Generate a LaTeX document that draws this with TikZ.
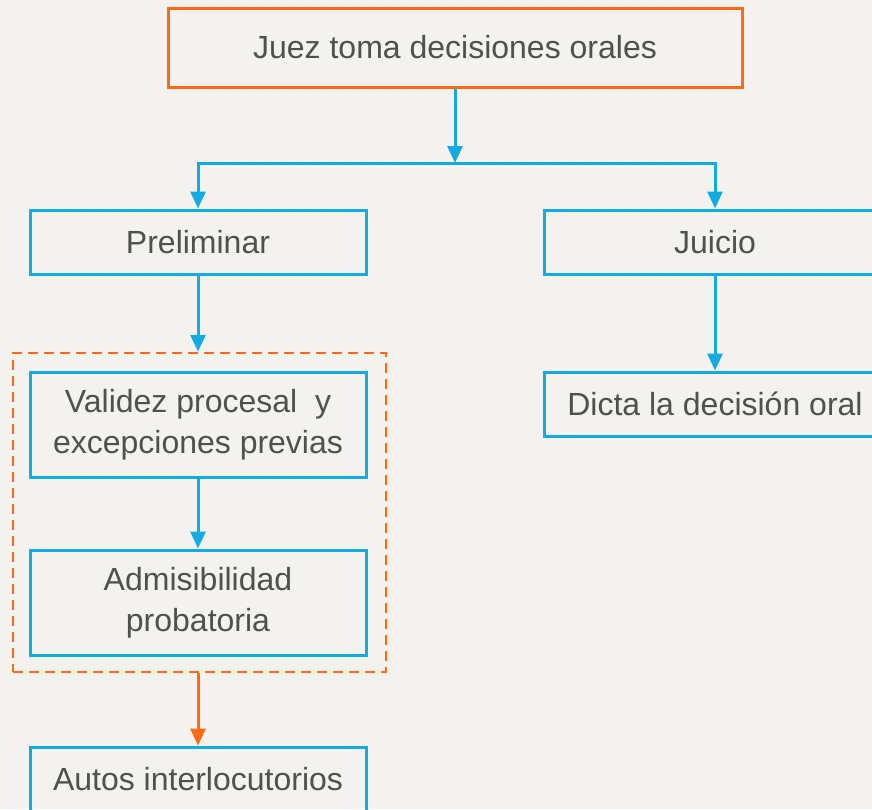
\documentclass[tikz,border=0pt]{standalone}
\usepackage{fontspec}
\setmainfont{Liberation Sans}
\usetikzlibrary{arrows.meta}

\definecolor{naranja}{HTML}{FF6A13}
\definecolor{celeste}{HTML}{12ACE3}
\definecolor{texto}{HTML}{505050}
\definecolor{papel}{HTML}{F4F2EF}

\tikzset{
    caja/.style={draw=celeste, line width=3pt, rectangle, text=texto, align=center,
        font=\fontsize{32}{41}\selectfont, inner sep=0pt},
    flecha/.style={draw=celeste, line width=3pt, -{Triangle[length=17pt,width=15pt]}},
}

\begin{document}
\begin{tikzpicture}[x=1pt,y=-1pt]
    \fill[papel] (0,0) rectangle (872,809);
    \useasboundingbox (0,0) rectangle (872,809);

    \node[caja, draw=naranja, minimum width=574pt, minimum height=79pt] (juez) at (455,47.5) {Juez toma decisiones orales};
    \node[caja, minimum width=336pt, minimum height=64pt] (prelim) at (198,242) {Preliminar};
    \node[caja, minimum width=342pt, minimum height=64pt] (juicio) at (715,242) {Juicio};
    \node[draw=naranja, line width=2.5pt, dash pattern=on 10pt off 6pt, minimum width=373pt, minimum height=319pt, inner sep=0pt] (grupo) at (199.5,512.5) {};
    \node[caja, minimum width=336pt, minimum height=105pt] (validez) at (198,424.5) {Validez procesal\ \ y\\excepciones previas};
    \node[caja, minimum width=336pt, minimum height=105pt] (admis) at (198,602.5) {Admisibilidad\\probatoria};
    \node[caja, minimum width=336pt, minimum height=64pt] (autos) at (198,779) {Autos interlocutorios};
    \node[caja, minimum width=342pt, minimum height=64pt] (dicta) at (715,404) {Dicta la decisión oral};

    \coordinate (rama) at (455,163);
    \draw[flecha] (juez) -- (rama);
    \draw[flecha] (rama) -| (prelim);
    \draw[flecha] (rama) -| (juicio);
    \draw[flecha] (prelim.south) -- (prelim.south |- grupo.north);
    \draw[flecha] (validez) -- (admis);
    \draw[flecha, draw=naranja, fill=naranja] (autos.north |- grupo.south) -- (autos.north);
    \draw[flecha] (juicio) -- (dicta);
\end{tikzpicture}
\end{document}
